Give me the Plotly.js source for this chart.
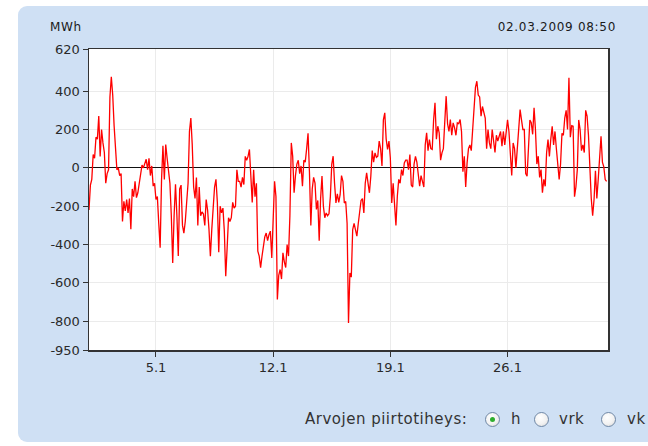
<!DOCTYPE html>
<html>
<head>
<meta charset="utf-8">
<script src="https://cdn.plot.ly/plotly-3.0.1.min.js"></script>
<style>
  html, body { margin: 0; padding: 0; background: #ffffff; }
  body { width: 648px; height: 446px; position: relative; overflow: hidden; font-family: 'DejaVu Sans', Verdana, sans-serif; }
  #panel { position: absolute; left: 18px; top: 6px; width: 660px; height: 436px; background: #cfe0f4; border-radius: 9px; }
  #chart { position: absolute; left: 0; top: 0; width: 648px; height: 446px; }
  .lbl { position: absolute; font-size: 12px; letter-spacing: 0.7px; color: #1a1a1a; white-space: nowrap; }
  .btxt { position: absolute; top: 410px; font-size: 15px; letter-spacing: 0.5px; color: #333; white-space: nowrap; line-height: 18px; }
  .radio { position: absolute; top: 412px; width: 15px; height: 15px; border-radius: 50%; border: 1px solid #7088a6; background: radial-gradient(circle at 40% 35%, #ffffff 0%, #f2f2f2 55%, #d3d3d3 100%); box-sizing: border-box; }
  .radio.on::after { content: ''; position: absolute; left: 4px; top: 4px; width: 5px; height: 5px; border-radius: 50%; background: #2fae2f; }
</style>
</head>
<body>
<div id="panel"></div>
<div id="chart"></div>
<div class="lbl" style="left:50px; top:20px;">MWh</div>
<div class="lbl" style="right:32px; top:20px;">02.03.2009 08:50</div>
<div class="btxt" style="left:305px;">Arvojen piirtotiheys:</div>
<div class="radio on" style="left:485px;"></div>
<div class="btxt" style="left:511px;">h</div>
<div class="radio" style="left:534px;"></div>
<div class="btxt" style="left:559px;">vrk</div>
<div class="radio" style="left:601px;"></div>
<div class="btxt" style="left:627px;">vk</div>
<script>
// Hourly net values (MWh), read every 2 hours from the picture, 1.1.2009 00:00 onwards
const startDate = '2009-01-01T00:00:00Z';
const stepHours = 2;

const week1 = [
  -220, -90, -60, 70, 50, 160, 150, 270, 60, 200, 130, 80,
  -80, -30, -10, 370, 475, 380, 220, 70, -10, 0, -40, -30,
  -280, -175, -225, -165, -235, -160, -320, -110, -150, -70, -155, -130,
  -80, -20, 15, 0, 20, 45, -10, 50, -40, 10, -95, -80,
  -165, -150, -290, -417, -60, 115, -60, 122, 50, -20, -80, -250,
  -496, -250, -85, -250, -460, -110, -90, -300, -340, -280, -160, -80,
  190, 260, 120, -100, -160, -50, -300, -100, -250, -230, -240, -300
];
const week2 = [
  -165, -220, -320, -461, -322, -230, -100, -60, -180, -440, -200, -235,
  -210, -330, -565, -420, -260, -280, -260, -180, -210, -200, -10, -70,
  -70, -100, -50, -87, 60, 40, 60, 96, -30, -180, -10, -150,
  -80, -435, -460, -520, -461, -410, -360, -340, -380, -348, -330, -470,
  -250, -70, -150, -687, -560, -530, -580, -443, -490, -520, -400, -460,
  -250, 130, 60, -130, -40, 20, 40, -30, 10, -96, 40, 30,
  100, 180, -20, -300, -110, -50, -80, -217, -170, -380, -160, -43
];
const week3 = [
  -200, -260, -235, -250, -240, -150, 20, 61, -80, -183, -135, -180,
  -140, -40, -70, -183, -175, -290, -809, -548, -570, -322, -290, -330,
  -356, -290, -217, -170, -160, -235, -80, -26, -80, -130, -43, 90,
  30, 78, 55, 61, 140, 100, 10, 250, 287, 150, 96, 140,
  50, -183, -80, -200, -300, -148, -60, -80, -9, -40, 26, 40,
  40, -9, 70, -90, -100, 20, 60, 30, -30, -96, -40, -78,
  -100, 120, 183, 90, 148, 100, 96, 250, 340, 150, 217, 183
];
const week4 = [
  40, 78, 100, 240, 374, 230, 190, 252, 170, 235, 210, 170,
  235, 230, 252, 190, -20, 60, -100, 26, 100, 120, 90, 200,
  339, 420, 452, 380, 370, 270, 320, 290, 260, 100, 200, 130,
  100, 200, 140, 80, 170, 140, 165, 190, 113, 190, 120, 183,
  250, 190, 80, -40, 130, 100, 0, 100, 150, 304, 250, 200,
  200, -30, -43, 100, 250, 235, 175, 313, 200, 20, 61, -50,
  -9, -130, -60, -96, 80, 148, 60, 150, 217, 120, 190, 100
];
const week5 = [
  0, -61, 20, 180, 170, 260, 300, 200, 470, 160, 220, 217,
  -150, -100, -9, 250, 200, 90, 120, 80, 300, 270, 170, -20,
  -160, -250, -165, -15, -160, -60, 80, 165, 30, 5, -61, -70
];

const xTickVals = ['2009-01-05', '2009-01-12', '2009-01-19', '2009-01-26'];
const xTickText = ['5.1', '12.1', '19.1', '26.1'];
const yTickVals = [620, 400, 200, 0, -200, -400, -600, -800, -950];
const yTickText = ['620', '400', '200', '0', '-200', '-400', '-600', '-800', '-950'];
const xRange = ['2009-01-01 00:00', '2009-02-01 00:00'];
const yRange = [-950, 620];

const values = [].concat(week1, week2, week3, week4, week5);
const t0 = Date.parse(startDate);
function fmt(ms) {
  const d = new Date(ms);
  const p = n => String(n).padStart(2, '0');
  return d.getUTCFullYear() + '-' + p(d.getUTCMonth() + 1) + '-' + p(d.getUTCDate()) + ' ' + p(d.getUTCHours()) + ':00';
}
const times = values.map((v, i) => fmt(t0 + i * stepHours * 3600000));

const tickFont = { family: 'DejaVu Sans, Verdana, sans-serif', size: 13, color: '#2a2a2a' };

Plotly.newPlot('chart', [{
  type: 'scatter', mode: 'lines', x: times, y: values,
  line: { color: '#ff0000', width: 1.3 }, hoverinfo: 'skip'
}], {
  width: 648, height: 446,
  margin: { l: 89, r: 40, t: 49, b: 96, pad: 0 },
  paper_bgcolor: 'rgba(0,0,0,0)', plot_bgcolor: '#ffffff',
  showlegend: false,
  xaxis: {
    type: 'date', range: xRange, tickvals: xTickVals, ticktext: xTickText,
    showgrid: true, gridcolor: '#ebebeb', gridwidth: 1,
    ticks: 'outside', ticklen: 5, tickcolor: '#333', tickfont: tickFont,
    showline: true, linecolor: '#333', linewidth: 1.5, mirror: true, zeroline: false
  },
  yaxis: {
    range: yRange, tickvals: yTickVals, ticktext: yTickText,
    showgrid: true, gridcolor: '#ebebeb', gridwidth: 1,
    zeroline: true, zerolinecolor: '#111', zerolinewidth: 1,
    ticks: 'outside', ticklen: 5, tickcolor: '#333', tickfont: tickFont,
    showline: true, linecolor: '#333', linewidth: 1.5, mirror: true
  }
}, { displayModeBar: false, staticPlot: true });
</script>
</body>
</html>
